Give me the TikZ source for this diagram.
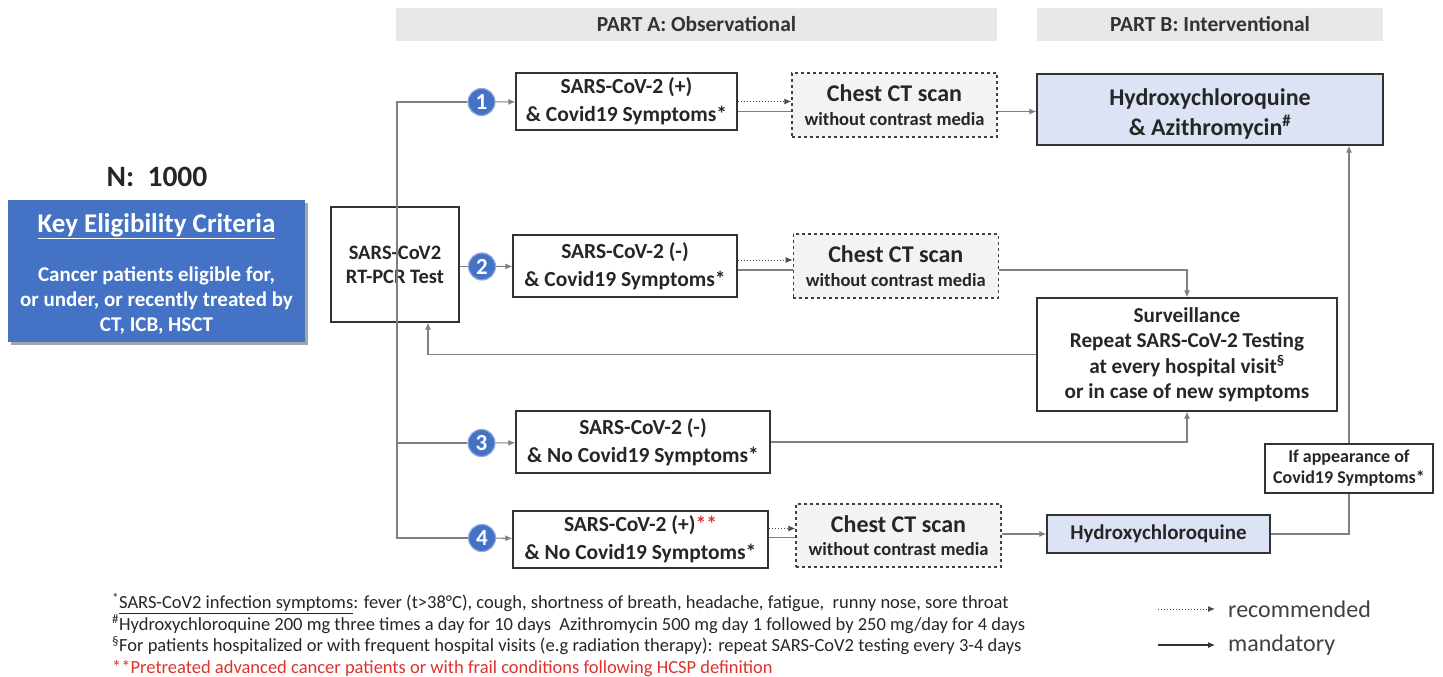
\documentclass[tikz,border=0pt]{standalone}
\usepackage{fontspec}
\setmainfont{Carlito}
\usetikzlibrary{arrows.meta,positioning,calc,shadows}
\definecolor{keyblue}{HTML}{4472C4}
\definecolor{drugblue}{HTML}{DCE3F4}
\definecolor{hdrgray}{HTML}{E8E8E8}
\definecolor{ctgray}{HTML}{F3F3F3}
\definecolor{notered}{HTML}{E0302A}
\definecolor{linegray}{HTML}{808080}
\newcommand{\setfs}[2]{\fontsize{#1}{#2}\selectfont}
\tikzset{
  flowline/.style={draw=linegray, line width=1.1pt},
  flowarrow/.style={-{Latex[length=7pt,width=6pt]}, draw=linegray, line width=1.1pt},
  dotarrow/.style={-{Latex[length=7pt,width=6pt]}, draw=black!70, line width=1pt, dotted},
  stepbox/.style={draw=black!80, line width=1.3pt, fill=white, align=center,
    inner sep=2pt, font=\bfseries\setfs{21.5}{28}, text=black!85},
  ctscan/.style={draw=black!75, line width=1.3pt, dashed, fill=ctgray, align=center,
    inner sep=2pt, text=black!85, font=\bfseries\setfs{18.5}{22}},
  drug/.style={draw=black!80, line width=1.3pt, fill=drugblue, align=center,
    inner sep=2pt, text=black!85},
  numdot/.style={circle, fill=keyblue, draw=keyblue!60, line width=1.2pt, text=white,
    font=\bfseries\setfs{23}{23}, inner sep=0pt, minimum size=27pt},
  header/.style={fill=hdrgray, minimum height=33pt, font=\bfseries\setfs{21.5}{24}, text=black!80},
  legendtext/.style={font=\setfs{24}{26}, text=black!75, anchor=west, inner sep=0pt}
}
\begin{document}
\begin{tikzpicture}[x=1pt, y=-1pt]
  \useasboundingbox (0,0) rectangle (1443,677);

  % headers
  \node[header, minimum width=601pt] (partA) at (696.5,24.5) {PART A: Observational};
  \node[header, minimum width=346pt] (partB) at (1210,24.5) {PART B: Interventional};

  % eligibility
  \node[font=\bfseries\setfs{29.5}{30}, text=black!85] (ncount) at (157,177) {N:\ \ 1000};
  \node[fill=keyblue, text=white, align=center, font=\bfseries\setfs{21}{25}, minimum width=297pt, minimum height=142pt,
    drop shadow={shadow xshift=3pt, shadow yshift=-3pt, fill=black, opacity=0.35}] (crit) at (156.5,271)
    {{\setfs{27}{28}\rule{0pt}{25pt}\underline{Key Eligibility Criteria}}\\[24pt]
     Cancer patients eligible for,\\or under, or recently treated by\\CT, ICB, HSCT};

  % test
  \node[stepbox, minimum width=128pt, minimum height=115pt, font=\bfseries\setfs{20.5}{24}] (pcr) at (395,264.5) {SARS-CoV2\\RT-PCR Test};

  % branches
  \node[numdot] (c1) at (481.5,102) {1};
  \node[numdot] (c2) at (482,266.5) {2};
  \node[numdot] (c3) at (481.5,443) {3};
  \node[numdot] (c4) at (482,538) {4};

  \node[stepbox, minimum width=221pt, minimum height=57pt] (pos1) at (626.5,101.5) {SARS-CoV-2 (+)\\\& Covid19 Symptoms*};
  \node[stepbox, minimum width=224pt, minimum height=62pt] (neg2) at (625,266) {SARS-CoV-2 (-)\\\& Covid19 Symptoms*};
  \node[stepbox, minimum width=254pt, minimum height=62pt] (neg3) at (643,442) {SARS-CoV-2 (-)\\\& No Covid19 Symptoms*};
  \node[stepbox, minimum width=255pt, minimum height=57pt] (pos4) at (640.5,539.5) {SARS-CoV-2 (+)\textcolor{notered}{**}\\\& No Covid19 Symptoms*};

  \node[ctscan, minimum width=205pt, minimum height=64pt] (ct1) at (894.5,105)
    {{\setfs{24}{28}Chest CT scan}\\[2pt]without contrast media};
  \node[ctscan, minimum width=205pt, minimum height=64pt, right=55pt of neg2] (ct2)
    {{\setfs{24}{28}Chest CT scan}\\[2pt]without contrast media};
  \node[ctscan, minimum width=205pt, minimum height=63pt] (ct4) at (898.5,535.5)
    {{\setfs{24}{28}Chest CT scan}\\[1pt]without contrast media};

  % treatment and follow-up
  \node[drug, minimum width=346pt, minimum height=71pt, font=\bfseries\setfs{24}{30}] (hcqazi) at (1210,109.5)
    {\rule{0pt}{26pt}Hydroxychloroquine\\\& Azithromycin\textsuperscript{\#}};
  \node[stepbox, minimum width=300pt, minimum height=113pt, font=\bfseries\setfs{21.2}{25.5}] (surv) at (1187,354.5)
    {Surveillance\\Repeat SARS-CoV-2 Testing\\at every hospital visit\textsuperscript{\S}\\or in case of new symptoms};
  \node[drug, minimum width=223pt, minimum height=38pt, font=\bfseries\setfs{21}{22}] (hcq) at (1158.5,534) {Hydroxychloroquine};
  \node[stepbox, minimum width=168pt, minimum height=49pt, font=\bfseries\setfs{18}{21}] (ifsym) at (1349,468.5)
    {If appearance of\\Covid19 Symptoms*};

  % connectors
  \coordinate (trunk) at (397,0);
  \draw[flowline] (c1.west) -- (c1.west -| trunk) -- (c4.west -| trunk) -- (c4.west);
  \draw[flowline] (c3.west -| trunk) -- (c3.west);
  \draw[flowline] (pcr.east |- c2) -- (c2.west);
  \draw[flowarrow] (c1) -- (pos1);
  \draw[flowarrow] (c2) -- (neg2);
  \draw[flowarrow] (c3) -- (neg3);
  \draw[flowarrow] (c4) -- (pos4);

  \draw[dotarrow] (pos1.east) -- (pos1.east -| ct1.west);
  \draw[flowline] ([yshift=-10pt]pos1.east) -- ([yshift=-10pt]pos1.east -| ct1.west);
  \draw[flowarrow] ([yshift=-10pt]pos1.east -| ct1.east) -- ([yshift=-10pt]pos1.east -| hcqazi.west);

  \draw[dotarrow] ([yshift=6pt]neg2.east) -- ([yshift=6pt]neg2.east -| ct2.west);
  \draw[flowline] ([yshift=-4pt]neg2.east) -- ([yshift=-4pt]neg2.east -| ct2.west);
  \draw[flowarrow] ([yshift=-4pt]ct2.east) -| (surv.north);

  \draw[flowarrow] (neg3.east) -| (surv.south);
  \draw[flowarrow] (surv.west) -| ([xshift=33pt]pcr.south);

  \draw[dotarrow] ([yshift=11pt]pos4.east) -- ([yshift=11pt]pos4.east -| ct4.west);
  \draw[flowline] ([yshift=2pt]pos4.east) -- ([yshift=2pt]pos4.east -| ct4.west);
  \draw[flowarrow] (ct4.east |- hcq) -- (hcq.west);
  \draw[flowline] (hcq.east) -| (ifsym.south);
  \draw[flowarrow] (ifsym.north) -- (ifsym.north |- hcqazi.south);

  % footnotes
  \node[anchor=north west, align=left, inner sep=0pt, font=\setfs{18.5}{21.5}, text=black!85] (notes) at (112,593)
    {\textsuperscript{*}\underline{SARS-CoV2 infection symptoms}: fever (t>38°C), cough, shortness of breath, headache, fatigue,\ \ runny nose, sore throat\\
     \textsuperscript{\#}Hydroxychloroquine 200 mg three times a day for 10 days\ \ Azithromycin 500 mg day 1 followed by 250 mg/day for 4 days\\
     \textsuperscript{\S}For patients hospitalized or with frequent hospital visits (e.g radiation therapy): repeat SARS-CoV2 testing every 3-4 days\\
     \textcolor{notered}{**Pretreated advanced cancer patients or with frail conditions following HCSP definition}};

  % legend
  \coordinate (recA) at (1158,609);
  \coordinate (recB) at (1215,609);
  \coordinate (manA) at (1158,645);
  \coordinate (manB) at (1215,645);
  \draw[dotarrow] (recA) -- (recB);
  \draw[flowarrow, draw=black!80] (manA) -- (manB);
  \node[legendtext] (rectext) at (1228,609) {recommended};
  \node[legendtext] (mantext) at (1228,645) {mandatory};
\end{tikzpicture}
\end{document}
